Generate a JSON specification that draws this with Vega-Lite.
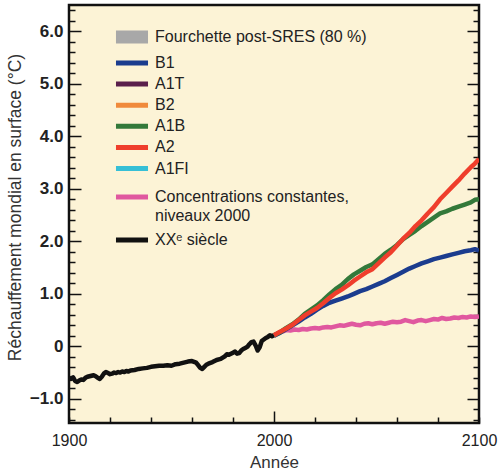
{
  "$schema": "https://vega.github.io/schema/vega-lite/v6.json",
  "width": 410,
  "height": 418,
  "autosize": {"type": "none"},
  "padding": {"left": 69, "top": 5, "right": 21, "bottom": 53},
  "background": "white",
  "config": {
    "view": {"fill": "#fcf3d6", "stroke": "#111111", "strokeWidth": 2.5},
    "font": "Liberation Sans"
  },
  "datasets": {
    "ranges": [
      {"scenario": "B1", "start": 2103, "end": 2106, "low": 1.1, "high": 2.9, "band": "Fourchette post-SRES (80 %)"},
      {"scenario": "A1T", "start": 2108, "end": 2111, "low": 1.4, "high": 3.8, "band": "Fourchette post-SRES (80 %)"},
      {"scenario": "B2", "start": 2113, "end": 2116, "low": 1.4, "high": 3.8, "band": "Fourchette post-SRES (80 %)"},
      {"scenario": "A1B", "start": 2118, "end": 2121, "low": 1.7, "high": 4.4, "band": "Fourchette post-SRES (80 %)"},
      {"scenario": "A2", "start": 2123, "end": 2126, "low": 2.0, "high": 5.4, "band": "Fourchette post-SRES (80 %)"},
      {"scenario": "A1FI", "start": 2128, "end": 2131, "low": 2.4, "high": 6.4, "band": "Fourchette post-SRES (80 %)"}
    ],
    "others": [
      {"series": "Concentrations constantes, niveaux 2000", "year": 2000, "value": 0.21},
      {"series": "Concentrations constantes, niveaux 2000", "year": 2002, "value": 0.25},
      {"series": "Concentrations constantes, niveaux 2000", "year": 2004, "value": 0.28},
      {"series": "Concentrations constantes, niveaux 2000", "year": 2006, "value": 0.31},
      {"series": "Concentrations constantes, niveaux 2000", "year": 2008, "value": 0.30},
      {"series": "Concentrations constantes, niveaux 2000", "year": 2010, "value": 0.32},
      {"series": "Concentrations constantes, niveaux 2000", "year": 2012, "value": 0.31},
      {"series": "Concentrations constantes, niveaux 2000", "year": 2014, "value": 0.33},
      {"series": "Concentrations constantes, niveaux 2000", "year": 2016, "value": 0.32},
      {"series": "Concentrations constantes, niveaux 2000", "year": 2018, "value": 0.34},
      {"series": "Concentrations constantes, niveaux 2000", "year": 2020, "value": 0.35},
      {"series": "Concentrations constantes, niveaux 2000", "year": 2022, "value": 0.34},
      {"series": "Concentrations constantes, niveaux 2000", "year": 2024, "value": 0.36},
      {"series": "Concentrations constantes, niveaux 2000", "year": 2026, "value": 0.37},
      {"series": "Concentrations constantes, niveaux 2000", "year": 2028, "value": 0.36},
      {"series": "Concentrations constantes, niveaux 2000", "year": 2030, "value": 0.38},
      {"series": "Concentrations constantes, niveaux 2000", "year": 2032, "value": 0.40},
      {"series": "Concentrations constantes, niveaux 2000", "year": 2034, "value": 0.39},
      {"series": "Concentrations constantes, niveaux 2000", "year": 2036, "value": 0.41},
      {"series": "Concentrations constantes, niveaux 2000", "year": 2038, "value": 0.43},
      {"series": "Concentrations constantes, niveaux 2000", "year": 2040, "value": 0.41},
      {"series": "Concentrations constantes, niveaux 2000", "year": 2042, "value": 0.40},
      {"series": "Concentrations constantes, niveaux 2000", "year": 2044, "value": 0.43},
      {"series": "Concentrations constantes, niveaux 2000", "year": 2046, "value": 0.44},
      {"series": "Concentrations constantes, niveaux 2000", "year": 2048, "value": 0.42},
      {"series": "Concentrations constantes, niveaux 2000", "year": 2050, "value": 0.44},
      {"series": "Concentrations constantes, niveaux 2000", "year": 2052, "value": 0.45},
      {"series": "Concentrations constantes, niveaux 2000", "year": 2054, "value": 0.43},
      {"series": "Concentrations constantes, niveaux 2000", "year": 2056, "value": 0.45},
      {"series": "Concentrations constantes, niveaux 2000", "year": 2058, "value": 0.47},
      {"series": "Concentrations constantes, niveaux 2000", "year": 2060, "value": 0.46},
      {"series": "Concentrations constantes, niveaux 2000", "year": 2062, "value": 0.47},
      {"series": "Concentrations constantes, niveaux 2000", "year": 2064, "value": 0.50},
      {"series": "Concentrations constantes, niveaux 2000", "year": 2066, "value": 0.48},
      {"series": "Concentrations constantes, niveaux 2000", "year": 2068, "value": 0.46},
      {"series": "Concentrations constantes, niveaux 2000", "year": 2070, "value": 0.49},
      {"series": "Concentrations constantes, niveaux 2000", "year": 2072, "value": 0.50},
      {"series": "Concentrations constantes, niveaux 2000", "year": 2074, "value": 0.48},
      {"series": "Concentrations constantes, niveaux 2000", "year": 2076, "value": 0.50},
      {"series": "Concentrations constantes, niveaux 2000", "year": 2078, "value": 0.52},
      {"series": "Concentrations constantes, niveaux 2000", "year": 2080, "value": 0.51},
      {"series": "Concentrations constantes, niveaux 2000", "year": 2082, "value": 0.54},
      {"series": "Concentrations constantes, niveaux 2000", "year": 2084, "value": 0.52},
      {"series": "Concentrations constantes, niveaux 2000", "year": 2086, "value": 0.53},
      {"series": "Concentrations constantes, niveaux 2000", "year": 2088, "value": 0.55},
      {"series": "Concentrations constantes, niveaux 2000", "year": 2090, "value": 0.54},
      {"series": "Concentrations constantes, niveaux 2000", "year": 2092, "value": 0.56},
      {"series": "Concentrations constantes, niveaux 2000", "year": 2094, "value": 0.55},
      {"series": "Concentrations constantes, niveaux 2000", "year": 2096, "value": 0.57},
      {"series": "Concentrations constantes, niveaux 2000", "year": 2098, "value": 0.56},
      {"series": "Concentrations constantes, niveaux 2000", "year": 2100, "value": 0.57},
      {"series": "XXᵉ siècle", "year": 1900, "value": -0.60},
      {"series": "XXᵉ siècle", "year": 1901, "value": -0.62},
      {"series": "XXᵉ siècle", "year": 1902, "value": -0.59},
      {"series": "XXᵉ siècle", "year": 1903, "value": -0.66},
      {"series": "XXᵉ siècle", "year": 1904, "value": -0.68},
      {"series": "XXᵉ siècle", "year": 1905, "value": -0.65},
      {"series": "XXᵉ siècle", "year": 1906, "value": -0.63},
      {"series": "XXᵉ siècle", "year": 1907, "value": -0.64},
      {"series": "XXᵉ siècle", "year": 1908, "value": -0.60},
      {"series": "XXᵉ siècle", "year": 1909, "value": -0.58},
      {"series": "XXᵉ siècle", "year": 1910, "value": -0.57},
      {"series": "XXᵉ siècle", "year": 1911, "value": -0.56},
      {"series": "XXᵉ siècle", "year": 1912, "value": -0.55},
      {"series": "XXᵉ siècle", "year": 1913, "value": -0.57},
      {"series": "XXᵉ siècle", "year": 1914, "value": -0.60},
      {"series": "XXᵉ siècle", "year": 1915, "value": -0.62},
      {"series": "XXᵉ siècle", "year": 1916, "value": -0.58},
      {"series": "XXᵉ siècle", "year": 1917, "value": -0.52},
      {"series": "XXᵉ siècle", "year": 1918, "value": -0.49},
      {"series": "XXᵉ siècle", "year": 1919, "value": -0.51},
      {"series": "XXᵉ siècle", "year": 1920, "value": -0.53},
      {"series": "XXᵉ siècle", "year": 1921, "value": -0.52},
      {"series": "XXᵉ siècle", "year": 1922, "value": -0.50},
      {"series": "XXᵉ siècle", "year": 1923, "value": -0.51},
      {"series": "XXᵉ siècle", "year": 1924, "value": -0.49},
      {"series": "XXᵉ siècle", "year": 1925, "value": -0.50},
      {"series": "XXᵉ siècle", "year": 1926, "value": -0.48},
      {"series": "XXᵉ siècle", "year": 1927, "value": -0.49},
      {"series": "XXᵉ siècle", "year": 1928, "value": -0.47},
      {"series": "XXᵉ siècle", "year": 1929, "value": -0.48},
      {"series": "XXᵉ siècle", "year": 1930, "value": -0.46},
      {"series": "XXᵉ siècle", "year": 1932, "value": -0.45},
      {"series": "XXᵉ siècle", "year": 1934, "value": -0.43},
      {"series": "XXᵉ siècle", "year": 1936, "value": -0.42},
      {"series": "XXᵉ siècle", "year": 1938, "value": -0.41},
      {"series": "XXᵉ siècle", "year": 1940, "value": -0.39},
      {"series": "XXᵉ siècle", "year": 1942, "value": -0.38},
      {"series": "XXᵉ siècle", "year": 1944, "value": -0.37},
      {"series": "XXᵉ siècle", "year": 1946, "value": -0.37},
      {"series": "XXᵉ siècle", "year": 1948, "value": -0.36},
      {"series": "XXᵉ siècle", "year": 1950, "value": -0.37},
      {"series": "XXᵉ siècle", "year": 1952, "value": -0.34},
      {"series": "XXᵉ siècle", "year": 1954, "value": -0.33},
      {"series": "XXᵉ siècle", "year": 1956, "value": -0.31},
      {"series": "XXᵉ siècle", "year": 1958, "value": -0.29},
      {"series": "XXᵉ siècle", "year": 1960, "value": -0.28},
      {"series": "XXᵉ siècle", "year": 1962, "value": -0.31},
      {"series": "XXᵉ siècle", "year": 1963, "value": -0.36},
      {"series": "XXᵉ siècle", "year": 1964, "value": -0.41},
      {"series": "XXᵉ siècle", "year": 1965, "value": -0.43},
      {"series": "XXᵉ siècle", "year": 1966, "value": -0.39},
      {"series": "XXᵉ siècle", "year": 1967, "value": -0.35},
      {"series": "XXᵉ siècle", "year": 1968, "value": -0.33},
      {"series": "XXᵉ siècle", "year": 1970, "value": -0.30},
      {"series": "XXᵉ siècle", "year": 1972, "value": -0.26},
      {"series": "XXᵉ siècle", "year": 1974, "value": -0.24},
      {"series": "XXᵉ siècle", "year": 1976, "value": -0.19},
      {"series": "XXᵉ siècle", "year": 1977, "value": -0.15},
      {"series": "XXᵉ siècle", "year": 1978, "value": -0.16},
      {"series": "XXᵉ siècle", "year": 1980, "value": -0.12},
      {"series": "XXᵉ siècle", "year": 1981, "value": -0.10},
      {"series": "XXᵉ siècle", "year": 1982, "value": -0.14},
      {"series": "XXᵉ siècle", "year": 1983, "value": -0.13},
      {"series": "XXᵉ siècle", "year": 1984, "value": -0.08},
      {"series": "XXᵉ siècle", "year": 1985, "value": -0.05},
      {"series": "XXᵉ siècle", "year": 1986, "value": -0.03},
      {"series": "XXᵉ siècle", "year": 1987, "value": -0.01},
      {"series": "XXᵉ siècle", "year": 1988, "value": 0.04},
      {"series": "XXᵉ siècle", "year": 1989, "value": 0.08},
      {"series": "XXᵉ siècle", "year": 1990, "value": 0.09},
      {"series": "XXᵉ siècle", "year": 1991, "value": 0.02},
      {"series": "XXᵉ siècle", "year": 1992, "value": -0.08},
      {"series": "XXᵉ siècle", "year": 1993, "value": -0.02},
      {"series": "XXᵉ siècle", "year": 1994, "value": 0.10},
      {"series": "XXᵉ siècle", "year": 1995, "value": 0.13},
      {"series": "XXᵉ siècle", "year": 1996, "value": 0.16},
      {"series": "XXᵉ siècle", "year": 1997, "value": 0.18},
      {"series": "XXᵉ siècle", "year": 1998, "value": 0.21},
      {"series": "XXᵉ siècle", "year": 1999, "value": 0.19},
      {"series": "XXᵉ siècle", "year": 2000, "value": 0.21}
    ],
    "scenarios": [
      {"series": "B1", "year": 2000, "value": 0.20},
      {"series": "B1", "year": 2003, "value": 0.26},
      {"series": "B1", "year": 2006, "value": 0.33},
      {"series": "B1", "year": 2009, "value": 0.40},
      {"series": "B1", "year": 2012, "value": 0.47},
      {"series": "B1", "year": 2015, "value": 0.55},
      {"series": "B1", "year": 2018, "value": 0.62},
      {"series": "B1", "year": 2021, "value": 0.70},
      {"series": "B1", "year": 2024, "value": 0.77},
      {"series": "B1", "year": 2027, "value": 0.83},
      {"series": "B1", "year": 2030, "value": 0.87},
      {"series": "B1", "year": 2033, "value": 0.91},
      {"series": "B1", "year": 2036, "value": 0.95},
      {"series": "B1", "year": 2039, "value": 1.00},
      {"series": "B1", "year": 2042, "value": 1.05},
      {"series": "B1", "year": 2045, "value": 1.09},
      {"series": "B1", "year": 2048, "value": 1.14},
      {"series": "B1", "year": 2051, "value": 1.19},
      {"series": "B1", "year": 2054, "value": 1.24},
      {"series": "B1", "year": 2057, "value": 1.30},
      {"series": "B1", "year": 2060, "value": 1.36},
      {"series": "B1", "year": 2063, "value": 1.42},
      {"series": "B1", "year": 2066, "value": 1.48},
      {"series": "B1", "year": 2069, "value": 1.53},
      {"series": "B1", "year": 2072, "value": 1.58},
      {"series": "B1", "year": 2075, "value": 1.62},
      {"series": "B1", "year": 2078, "value": 1.66},
      {"series": "B1", "year": 2081, "value": 1.69},
      {"series": "B1", "year": 2084, "value": 1.72},
      {"series": "B1", "year": 2087, "value": 1.75},
      {"series": "B1", "year": 2090, "value": 1.78},
      {"series": "B1", "year": 2093, "value": 1.81},
      {"series": "B1", "year": 2096, "value": 1.83},
      {"series": "B1", "year": 2098, "value": 1.85},
      {"series": "B1", "year": 2100, "value": 1.82},
      {"series": "A1B", "year": 2000, "value": 0.21},
      {"series": "A1B", "year": 2003, "value": 0.27},
      {"series": "A1B", "year": 2006, "value": 0.35},
      {"series": "A1B", "year": 2009, "value": 0.42},
      {"series": "A1B", "year": 2012, "value": 0.51},
      {"series": "A1B", "year": 2015, "value": 0.62},
      {"series": "A1B", "year": 2018, "value": 0.70},
      {"series": "A1B", "year": 2021, "value": 0.78},
      {"series": "A1B", "year": 2024, "value": 0.88},
      {"series": "A1B", "year": 2027, "value": 0.99},
      {"series": "A1B", "year": 2030, "value": 1.09},
      {"series": "A1B", "year": 2033, "value": 1.17},
      {"series": "A1B", "year": 2036, "value": 1.28},
      {"series": "A1B", "year": 2039, "value": 1.37},
      {"series": "A1B", "year": 2042, "value": 1.44},
      {"series": "A1B", "year": 2045, "value": 1.51},
      {"series": "A1B", "year": 2048, "value": 1.56},
      {"series": "A1B", "year": 2051, "value": 1.66},
      {"series": "A1B", "year": 2054, "value": 1.76},
      {"series": "A1B", "year": 2057, "value": 1.84},
      {"series": "A1B", "year": 2060, "value": 1.93},
      {"series": "A1B", "year": 2063, "value": 2.04},
      {"series": "A1B", "year": 2066, "value": 2.12},
      {"series": "A1B", "year": 2069, "value": 2.20},
      {"series": "A1B", "year": 2072, "value": 2.29},
      {"series": "A1B", "year": 2075, "value": 2.37},
      {"series": "A1B", "year": 2078, "value": 2.45},
      {"series": "A1B", "year": 2081, "value": 2.53},
      {"series": "A1B", "year": 2084, "value": 2.57},
      {"series": "A1B", "year": 2087, "value": 2.62},
      {"series": "A1B", "year": 2090, "value": 2.66},
      {"series": "A1B", "year": 2093, "value": 2.70},
      {"series": "A1B", "year": 2096, "value": 2.74},
      {"series": "A1B", "year": 2098, "value": 2.79},
      {"series": "A1B", "year": 2100, "value": 2.80},
      {"series": "A2", "year": 2000, "value": 0.21},
      {"series": "A2", "year": 2003, "value": 0.28},
      {"series": "A2", "year": 2006, "value": 0.34},
      {"series": "A2", "year": 2009, "value": 0.41},
      {"series": "A2", "year": 2012, "value": 0.50},
      {"series": "A2", "year": 2015, "value": 0.59},
      {"series": "A2", "year": 2018, "value": 0.66},
      {"series": "A2", "year": 2021, "value": 0.73},
      {"series": "A2", "year": 2024, "value": 0.82},
      {"series": "A2", "year": 2027, "value": 0.92},
      {"series": "A2", "year": 2030, "value": 1.01},
      {"series": "A2", "year": 2033, "value": 1.08},
      {"series": "A2", "year": 2036, "value": 1.16},
      {"series": "A2", "year": 2039, "value": 1.25},
      {"series": "A2", "year": 2042, "value": 1.33},
      {"series": "A2", "year": 2045, "value": 1.41},
      {"series": "A2", "year": 2048, "value": 1.47},
      {"series": "A2", "year": 2051, "value": 1.58},
      {"series": "A2", "year": 2054, "value": 1.69},
      {"series": "A2", "year": 2057, "value": 1.79},
      {"series": "A2", "year": 2060, "value": 1.92},
      {"series": "A2", "year": 2063, "value": 2.05},
      {"series": "A2", "year": 2066, "value": 2.16},
      {"series": "A2", "year": 2069, "value": 2.29},
      {"series": "A2", "year": 2072, "value": 2.40},
      {"series": "A2", "year": 2075, "value": 2.53},
      {"series": "A2", "year": 2078, "value": 2.65},
      {"series": "A2", "year": 2081, "value": 2.80},
      {"series": "A2", "year": 2084, "value": 2.92},
      {"series": "A2", "year": 2087, "value": 3.04},
      {"series": "A2", "year": 2090, "value": 3.16},
      {"series": "A2", "year": 2093, "value": 3.29},
      {"series": "A2", "year": 2096, "value": 3.41},
      {"series": "A2", "year": 2098, "value": 3.48},
      {"series": "A2", "year": 2100, "value": 3.57}
    ]
  },
  "layer": [
    {
      "data": {"name": "ranges"},
      "mark": {"type": "rect", "clip": true},
      "encoding": {
        "x": {"field": "start", "type": "quantitative", "scale": {"domain": [1900, 2100], "nice": false, "zero": false}, "axis": null},
        "x2": {"field": "end"},
        "y": {
          "field": "low", "type": "quantitative",
          "scale": {"domain": [-1.46, 6.5], "nice": false, "zero": false},
          "axis": {
            "orient": "right", "title": null, "labels": false, "domain": false, "grid": false,
            "values": [-1.4,-1.2,-1,-0.8,-0.6,-0.4,-0.2,0,0.2,0.4,0.6,0.8,1,1.2,1.4,1.6,1.8,2,2.2,2.4,2.6,2.8,3,3.2,3.4,3.6,3.8,4,4.2,4.4,4.6,4.8,5,5.2,5.4,5.6,5.8,6,6.2,6.4],
            "tickColor": "#111111", "tickWidth": 1.5,
            "tickSize": {"condition": {"test": "abs(datum.value - round(datum.value)) < 0.01", "value": -12}, "value": -6}
          }
        },
        "y2": {"field": "high"},
        "fill": {
          "field": "band", "type": "nominal",
          "scale": {"range": ["#a8a8a8"]},
          "legend": {
            "orient": "none", "legendX": 55, "legendY": 24, "title": null, "padding": 0,
            "symbolType": "M-3,-1.2H3V1.2H-3Z", "symbolSize": 114, "symbolStrokeWidth": 0,
            "labelFont": "Liberation Sans", "labelFontSize": 16, "labelColor": "#222222", "labelOffset": 15, "labelLimit": 400
          }
        }
      }
    },
    {
      "data": {"name": "others"},
      "mark": {"type": "line", "strokeWidth": 4.5, "strokeJoin": "round", "clip": true},
      "encoding": {
        "x": {"field": "year", "type": "quantitative", "scale": {"domain": [1900, 2100], "nice": false, "zero": false}, "axis": null},
        "y": {"field": "value", "type": "quantitative", "scale": {"domain": [-1.46, 6.5], "nice": false, "zero": false}, "axis": null},
        "stroke": {
          "field": "series", "type": "nominal",
          "scale": {
            "domain": ["Concentrations constantes, niveaux 2000", "XXᵉ siècle"],
            "range": ["#e0589f", "#111111"]
          },
          "legend": {
            "orient": "none", "legendX": 55, "legendY": 184, "title": null, "padding": 0,
            "symbolType": "M-3,0H3", "symbolSize": 114, "symbolStrokeWidth": 5,
            "labelFont": "Liberation Sans", "labelFontSize": 16, "labelColor": "#222222", "labelOffset": 15, "labelLimit": 400,
            "rowPadding": 6,
            "labelExpr": "datum.label == 'Concentrations constantes, niveaux 2000' ? ['Concentrations constantes,', 'niveaux 2000'] : datum.label",
            "encode": {"labels": {"update": {"lineHeight": {"value": 19}}}}
          }
        }
      }
    },
    {
      "data": {"name": "scenarios"},
      "mark": {"type": "line", "strokeWidth": 4.5, "strokeJoin": "round", "clip": true},
      "encoding": {
        "x": {
          "field": "year", "type": "quantitative",
          "scale": {"domain": [1900, 2100], "nice": false, "zero": false},
          "axis": {
            "values": [1900,1920,1940,1960,1980,2000,2020,2040,2060,2080,2100],
            "format": "d",
            "labelExpr": "datum.value % 100 == 0 ? datum.label : ''",
            "labelFont": "Liberation Sans", "labelFontSize": 16, "labelColor": "#222222",
            "labelPadding": {"condition": {"test": "datum.value == 2000", "value": 21}, "value": 15},
            "labelOverlap": false, "labelFlush": false,
            "domain": false, "grid": false,
            "tickColor": "#111111", "tickWidth": 1.5,
            "tickSize": {"condition": {"test": "datum.value == 2000", "value": -12}, "value": -6},
            "title": "Année", "titleFont": "Liberation Sans", "titleFontSize": 17, "titleFontWeight": "normal", "titleColor": "#333333",
            "titleY": 44, "titleBaseline": "alphabetic"
          }
        },
        "y": {
          "field": "value", "type": "quantitative",
          "scale": {"domain": [-1.46, 6.5], "nice": false, "zero": false},
          "axis": {
            "values": [-1.4,-1.2,-1,-0.8,-0.6,-0.4,-0.2,0,0.2,0.4,0.6,0.8,1,1.2,1.4,1.6,1.8,2,2.2,2.4,2.6,2.8,3,3.2,3.4,3.6,3.8,4,4.2,4.4,4.6,4.8,5,5.2,5.4,5.6,5.8,6,6.2,6.4],
            "labelExpr": "abs(datum.value - round(datum.value)) < 0.01 ? (abs(datum.value) < 0.01 ? '0' : format(datum.value, '.1f')) : ''",
            "labelFont": "Liberation Sans", "labelFontSize": 17, "labelFontWeight": "bold", "labelColor": "#222222", "labelPadding": 18,
            "labelOverlap": false,
            "domain": false, "grid": false,
            "tickColor": "#111111", "tickWidth": 1.5,
            "tickSize": {"condition": {"test": "abs(datum.value - round(datum.value)) < 0.01", "value": -12}, "value": -6},
            "title": "Réchauffement mondial en surface (°C)", "titleFont": "Liberation Sans", "titleFontSize": 17.5, "titleFontWeight": "normal", "titleColor": "#333333",
            "titleX": -54, "titleY": 202, "titleAngle": 270, "titleAlign": "center", "titleBaseline": "middle"
          }
        },
        "color": {
          "field": "series", "type": "nominal",
          "scale": {
            "domain": ["B1", "A1T", "B2", "A1B", "A2", "A1FI"],
            "range": ["#1b3c8e", "#5a1f4c", "#f08a3c", "#33793a", "#ef3e2c", "#36bfd6"]
          },
          "legend": {
            "orient": "none", "legendX": 55, "legendY": 50, "title": null, "padding": 0,
            "symbolType": "M-3,0H3", "symbolSize": 114, "symbolStrokeWidth": 5,
            "labelFont": "Liberation Sans", "labelFontSize": 16, "labelColor": "#222222", "labelOffset": 15, "labelLimit": 400,
            "rowPadding": 1.1
          }
        }
      }
    }
  ],
  "resolve": {"axis": {"x": "independent", "y": "independent"}}
}
